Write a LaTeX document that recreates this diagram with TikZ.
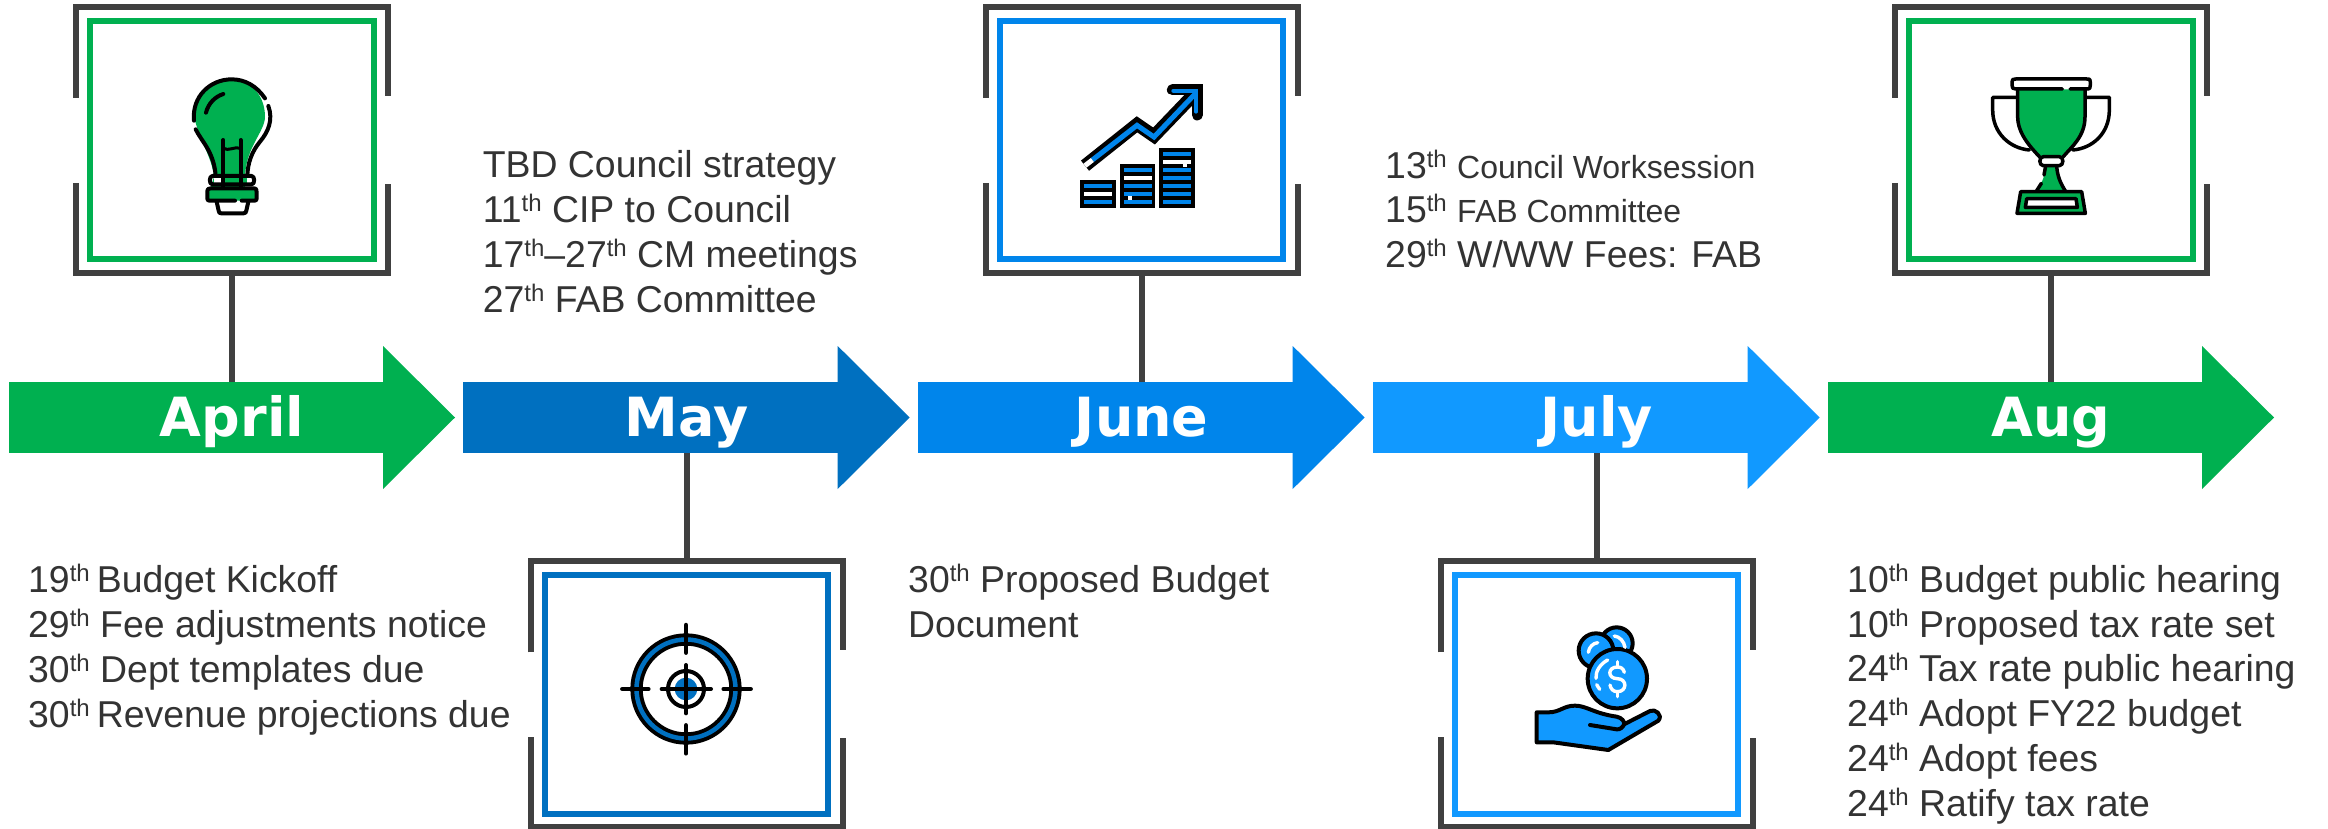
\documentclass[tikz,border=0pt]{standalone}
\usepackage{fontspec}
\setmainfont{Liberation Sans}
\newfontfamily\monthfont{DejaVu Sans}
\usetikzlibrary{calc}
\definecolor{cgreen}{HTML}{00B050}
\definecolor{cmay}{HTML}{0070C0}
\definecolor{cjune}{HTML}{0085EB}
\definecolor{cjuly}{HTML}{1199FF}
\definecolor{cframe}{HTML}{404040}
\definecolor{ctext}{HTML}{333333}
\newcommand\thh{\raisebox{11pt}{\fontsize{24}{24}\selectfont th}}
\newcommand\smt[1]{{\fontsize{32}{44.7}\selectfont #1}}
\newcommand\firstl{\rule{0pt}{36pt}}
\tikzset{
  bar/.style={fill=#1,minimum width=374.5pt,minimum height=71.3pt,inner sep=0pt,outer sep=0pt},
  monthlabel/.style={anchor=base,text=white,font=\monthfont\bfseries\fontsize{54}{54}\selectfont,inner sep=0pt},
  outerframe/.style={minimum width=312pt,minimum height=266pt,inner sep=0pt,outer sep=0pt},
  innerframe/.style={draw=#1,line width=6pt,minimum width=283.4pt,minimum height=238.7pt,inner sep=0pt,outer sep=0pt},
  bracket/.style={draw=cframe,line width=6pt,line cap=butt,line join=miter},
  stem/.style={draw=cframe,line width=6pt},
  textblock/.style={anchor=north west,align=left,inner sep=0pt,text=ctext,font=\fontsize{37.4}{44.7}\selectfont},
  ic/.style={draw=black,line width=4pt,line cap=round,line join=round},
  iconscope/.style={shift={(#1)},x=0.33333pt,y=-0.33333pt}
}
% name, label, centre x, colour
\newcommand\MonthArrow[4]{%
  \pgfmathsetmacro\barx{#3-223+187}%
  \pgfmathsetmacro\hx{#3+151}%
  \pgfmathsetmacro\tx{#3+223}%
  \node[bar=#4] (#1bar) at (\barx,417.5) {};
  \fill[#4] (\hx,346) -- (\tx,417.5) -- (\hx,489) -- cycle;
  \node[monthlabel] (#1label) at (#3,436) {#2};
}
\newcommand\Frame[4]{%
  \node[outerframe] (#1frame) at (#2,#3) {};
  \node[innerframe=#4] (#1inner) at (#2,#3) {};
  \draw[bracket] ($(#1frame.north west)+(0,-91pt)$) -- (#1frame.north west) -- (#1frame.north east) -- ($(#1frame.north east)+(0,-89pt)$);
  \draw[bracket] ($(#1frame.south west)+(0,90pt)$) -- (#1frame.south west) -- (#1frame.south east) -- ($(#1frame.south east)+(0,89pt)$);
}
\begin{document}
\begin{tikzpicture}[x=1pt,y=-1pt]
\useasboundingbox (0,0) rectangle (2328,829);
\fill[white] (0,0) rectangle (2328,829);

\MonthArrow{apr}{April}{232}{cgreen}
\MonthArrow{may}{May}{686.7}{cmay}
\MonthArrow{jun}{June}{1141.7}{cjune}
\MonthArrow{jul}{July}{1596.7}{cjuly}
\MonthArrow{aug}{Aug}{2051}{cgreen}

\Frame{apr}{232}{140}{cgreen}
\Frame{may}{686.7}{694.3}{cmay}
\Frame{jun}{1141.7}{140}{cjune}
\Frame{jul}{1596.7}{694.3}{cjuly}
\Frame{aug}{2051}{140}{cgreen}

\draw[stem] (aprframe.south) -- (aprframe.south |- aprbar.north);
\draw[stem] (junframe.south) -- (junframe.south |- junbar.north);
\draw[stem] (augframe.south) -- (augframe.south |- augbar.north);
\draw[stem] (mayframe.north |- maybar.south) -- (mayframe.north);
\draw[stem] (julframe.north |- julbar.south) -- (julframe.north);

% texts
\node[textblock] (aprtext) at (28,556.7) {\firstl 19\thh\hspace{-3.3pt} Budget Kickoff\\29\thh\ Fee adjustments notice\\30\thh\ Dept templates due\\30\thh\hspace{-3.3pt} Revenue projections due};
\node[textblock] (maytext) at (482.6,141.7) {\firstl TBD Council strategy\\11\thh\ CIP to Council\\17\thh–27\thh\ CM meetings\\27\thh\ FAB Committee};
\node[textblock] (juntext) at (908,556.7) {\firstl 30\thh\ Proposed Budget\\Document};
\node[textblock] (jultext) at (1385,141.8) {\firstl 13\thh\ \smt{Council Worksession}\\15\thh\ \smt{FAB Committee}\\29\thh\ W/WW Fees: FAB};
\node[textblock] (augtext) at (1847,556.3) {\firstl 10\thh\ Budget public hearing\\10\thh\ Proposed tax rate set\\24\thh\ Tax rate public hearing\\24\thh\ Adopt FY22 budget\\24\thh\ Adopt fees\\24\thh\ Ratify tax rate};

% bulb
\begin{scope}[iconscope={60pt,0pt}]
\fill[cgreen] (402,350) .. controls (402,285) and (450,238) .. (515,238) .. controls (570,238) and (615,285) .. (615,350) .. controls (615,395) and (558,440) .. (555,530) -- (555,600) -- (450,600) -- (450,570) -- (462,530) .. controls (455,470) and (420,425) .. (402,350) -- cycle;
\fill[white] (462,535) rectangle (575,556);
\fill[cgreen] (490,535) rectangle (560,556);
\draw[ic] (402,362) .. controls (395,290) and (450,238) .. (515,238) .. controls (555,238) and (590,258) .. (615,295);
\draw[ic] (625,318) .. controls (640,360) and (625,395) .. (600,425) .. controls (575,455) and (563,490) .. (562,528);
\draw[ic] (407,388) .. controls (425,425) and (462,455) .. (467,528);
\draw[ic] (438,338) .. controls (445,310) and (465,290) .. (490,282);
\draw[ic] (457,528) -- (575,528) .. controls (585,528) and (585,553) .. (575,553) -- (457,553) .. controls (447,553) and (447,528) .. (457,528) -- cycle;
\draw[ic,fill=cgreen] (525,602) -- (452,602) .. controls (442,602) and (442,600) .. (442,590) -- (442,577) .. controls (442,567) and (445,565) .. (452,565) -- (580,565) .. controls (590,565) and (590,570) .. (590,577) -- (590,590) .. controls (590,600) and (590,602) .. (580,602) -- (545,602);
\draw[ic] (470,605) -- (476,632) .. controls (477,638) and (478,640) .. (484,640) -- (550,640) .. controls (556,640) and (558,638) .. (559,632) -- (565,605);
\draw[ic] (490,420) -- (490,560);
\draw[ic] (542,420) -- (542,560);
\draw[ic,line width=3pt] (490,445) .. controls (505,455) and (525,438) .. (542,445);
\end{scope}

% chart
\begin{scope}[iconscope={960pt,0pt}]
\fill[black] (360,540) rectangle (467,623);
\fill[black] (479,492) rectangle (586,623);
\fill[black] (598,444) rectangle (705,623);
\fill[cjune] (372,552) rectangle (456,564);
\fill[white] (372,576) rectangle (456,588);
\fill[cjune] (372,600) rectangle (456,612);
\fill[cjune] (491,504) rectangle (575,516);
\fill[white] (491,528) rectangle (575,540);
\fill[cjune] (491,552) rectangle (575,564);
\fill[cjune] (491,576) rectangle (575,588);
\fill[cjune] (491,600) rectangle (575,612);
\fill[white] (505,588) rectangle (517,600);
\fill[cjune] (610,456) rectangle (693,468);
\fill[white] (610,480) rectangle (693,492);
\fill[white] (669,492) rectangle (681,500);
\foreach \yy in {504,528,552,576,600} {\fill[cjune] (610,\yy) rectangle (693,\yy+12);}
\draw[black,line width=13pt,line join=miter] (375,497) -- (531,373) -- (582,408) -- (700,285);
\draw[black,line width=11pt,line cap=round,line join=miter] (637,270) -- (712,270) -- (712,345);
\draw[cjune,line width=5pt,line join=miter] (397,480) -- (531,376) -- (582,411) -- (705,282);
\draw[white,line width=5pt] (375,497) -- (397,480);
\draw[cjune,line width=4pt,line cap=round,line join=miter] (640,272) -- (708,272) -- (708,335);
\end{scope}

% target
\begin{scope}[iconscope={510pt,-540pt}]
\draw[black,line width=12.3pt] (528,447) circle[radius=148.5];
\draw[cmay,line width=4.5pt] (528,447) circle[radius=148.5];
\draw[ic,line width=4.5pt] (528,255) -- (528,338);
\draw[ic,line width=4.5pt] (528,556) -- (528,640);
\draw[ic,line width=4.5pt] (337,447) -- (415,447);
\draw[ic,line width=4.5pt] (641,447) -- (722,447);
\fill[cmay] (528,447) circle[radius=34];
\draw[black,line width=4pt] (528,447) circle[radius=54];
\draw[ic] (528,375) -- (528,520);
\draw[ic] (455,447) -- (603,447);
\end{scope}

% coins and hand
\begin{scope}[iconscope={1420pt,-540pt}]
\draw[ic,fill=cjuly] (590,310) circle[radius=48];
\draw[ic,fill=cjuly] (528,332) circle[radius=52];
\draw[ic,fill=cjuly] (592,416) circle[radius=89];
\begin{scope}[draw=white,line width=3.4pt,line cap=round]
\draw (505,337) .. controls (507,322) and (518,310) .. (533,308);
\draw (583,288) .. controls (600,290) and (612,305) .. (615,322);
\draw (563,360) .. controls (540,372) and (526,395) .. (528,415);
\draw (530,434) -- (539,448);
\draw (613,397) .. controls (610,385) and (602,381) .. (592,381) .. controls (562,381) and (562,416) .. (592,416) .. controls (622,416) and (622,455) .. (592,455) .. controls (580,455) and (572,447) .. (570,435);
\draw (592,365) -- (592,381);
\draw (592,455) -- (592,470);
\end{scope}
\draw[ic,fill=cjuly] (350,517) -- (385,517) .. controls (420,517) and (430,497) .. (465,497) .. controls (500,497) and (520,520) .. (590,530) .. controls (605,533) and (615,545) .. (612,553) -- (690,513) .. controls (705,505) and (730,525) .. (715,542) -- (565,630) -- (400,607) -- (350,607) -- cycle;
\draw[ic] (510,555) -- (590,568) .. controls (600,570) and (610,560) .. (612,553);
\end{scope}

% trophy
\begin{scope}[iconscope={1870pt,0pt}]
\draw[ic,line width=3.5pt] (440,292) -- (368,292) -- (368,330) .. controls (368,400) and (420,445) .. (478,450);
\draw[ic,line width=3.5pt] (645,292) -- (718,292) -- (718,330) .. controls (718,400) and (668,445) .. (608,450);
\fill[cgreen] (443,268) -- (645,268) -- (645,350) .. controls (645,410) and (600,440) .. (575,470) -- (510,470) .. controls (480,440) and (443,400) .. (443,350) -- cycle;
\draw[ic,line width=3.5pt] (443,270) -- (443,350) .. controls (443,400) and (480,440) .. (510,472);
\draw[ic,line width=3.5pt] (645,270) -- (645,350) .. controls (645,410) and (605,440) .. (578,472);
\draw[ic,line width=3.5pt] (577,267) -- (437,267) .. controls (428,267) and (426,264) .. (426,255) -- (426,247) .. controls (426,238) and (428,237) .. (437,237) -- (650,237) .. controls (660,237) and (661,238) .. (661,247) -- (661,255) .. controls (661,264) and (660,267) .. (650,267) -- (600,267);
\fill[cgreen] (527,497) .. controls (525,530) and (515,550) .. (500,573) -- (586,573) .. controls (572,550) and (562,530) .. (560,497) -- cycle;
\draw[ic,line width=3.5pt] (560,497) .. controls (562,530) and (572,550) .. (586,573);
\draw[ic,line width=3.5pt] (527,497) -- (522,525);
\draw[ic,line width=3.5pt] (514,550) -- (500,572);
\draw[ic,line width=3.5pt,fill=white] (520,470) -- (568,470) .. controls (582,470) and (582,497) .. (568,497) -- (520,497) .. controls (506,497) and (506,470) .. (520,470) -- cycle;
\draw[ic,line width=3.5pt,fill=cgreen] (452,575) -- (635,575) -- (646,640) -- (441,640) -- cycle;
\draw[ic,line width=3.5pt,fill=white] (470,596) -- (618,596) -- (622,622) -- (466,622) -- cycle;
\end{scope}
\end{tikzpicture}
\end{document}
